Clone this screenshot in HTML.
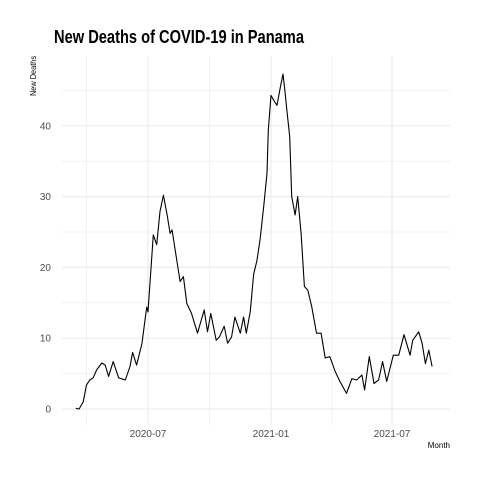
<!DOCTYPE html>
<html><head><meta charset="utf-8"><style>
html,body{margin:0;padding:0;background:#fff;}
svg{display:block;font-family:"Liberation Sans",sans-serif;}
</style></head><body>
<svg id="chart" width="480" height="480" viewBox="0 0 480 480">
<rect width="480" height="480" fill="#fff"/>
<g id="grid"></g>
<g id="axes"></g>
<path id="line" fill="none" stroke="#000" stroke-width="1.1" stroke-linejoin="round"/>
<text x="54" y="43" font-size="18" font-weight="bold" textLength="250" lengthAdjust="spacingAndGlyphs" fill="#000">New Deaths of COVID-19 in Panama</text>
<text transform="translate(36,76) rotate(-90)" font-size="8" text-anchor="middle" fill="#000" textLength="40" lengthAdjust="spacingAndGlyphs">New Deaths</text>
<text x="450" y="448" font-size="8" text-anchor="end" fill="#000">Month</text>
</svg>
<script>
// day offsets from 2020-03-14
const days = [1,6,12,17,22,27,32,40,45,50,57,65,75,82,86,92,100,107,109,117,122,127,132,138,142,145,149,157,162,167,174,183,193,198,203,211,216,223,228,234,239,247,252,256,262,267,272,277,282,287,289,293,297,302,307,311,314,317,321,324,329,333,338,343,348,354,361,368,374,381,389,396,406,414,421,429,433,440,447,454,460,466,476,484,492,501,505,514,519,524,529,534];
const deaths = [0.1,0,1,3.4,4.1,4.4,5.5,6.5,6.2,4.6,6.7,4.4,4.1,6,8,6.2,9.3,14.4,13.7,24.6,23.2,27.9,30.2,27.2,24.8,25.3,22.9,18,18.7,14.9,13.5,10.7,14,10.9,13.5,9.7,10.2,11.7,9.3,10.2,13,10.7,13,10.7,13.8,19,21,24.2,28.6,33.3,39.4,44.3,43.6,42.9,45.5,47.3,44.8,42,38.5,30,27.4,30,24.8,17.3,16.8,14.4,10.7,10.7,7.2,7.4,5.3,3.9,2.2,4.3,4.1,4.8,2.7,7.4,3.6,4.1,6.7,3.9,7.6,7.6,10.5,7.6,9.7,10.9,9.3,6.4,8.3,6];
const yTicks = [0,10,20,30,40];
const yMinor = [5,15,25,35,45];
const xTickDays = [109,293,474];
const xTickLabels = ["2020-07","2021-01","2021-07"];
const xMinorDays = [17,201,384];

const NS="http://www.w3.org/2000/svg";
const X0=62,X1=450,Y0=56,Y1=425;
function xs(d){return 148+(d-109)*0.6685;}
function ys(v){return 409-7.08*v;}
const grid=document.getElementById('grid'), axes=document.getElementById('axes');
function ln(g,x1,y1,x2,y2,w,name){
  const l=document.createElementNS(NS,'line');
  l.setAttribute('x1',x1);l.setAttribute('y1',y1);l.setAttribute('x2',x2);l.setAttribute('y2',y2);
  l.setAttribute('stroke','#ebebeb');l.setAttribute('stroke-width',w);
  
  
  g.appendChild(l);
}
yMinor.forEach(v=>ln(grid,X0,ys(v),X1,ys(v),0.6,'y-minor-gridline'));
xMinorDays.forEach(d=>ln(grid,xs(d),Y0,xs(d),Y1,0.6,'x-minor-gridline'));
yTicks.forEach(v=>{
  ln(grid,X0,ys(v),X1,ys(v),1.1,'y-major-gridline');
  const t=document.createElementNS(NS,'text');
  t.setAttribute('x',51);t.setAttribute('y',ys(v)+3.5);t.setAttribute('text-anchor','end');
  t.setAttribute('font-size','10');t.setAttribute('fill','#4d4d4d');t.textContent=v;
  
  
  axes.appendChild(t);
});
xTickDays.forEach((d,i)=>{
  ln(grid,xs(d),Y0,xs(d),Y1,1.1,'x-major-gridline');
  const t=document.createElementNS(NS,'text');
  t.setAttribute('x',xs(d));t.setAttribute('y',437);t.setAttribute('text-anchor','middle');
  t.setAttribute('font-size','10');t.setAttribute('fill','#4d4d4d');t.textContent=xTickLabels[i];
  
  
  axes.appendChild(t);
});
document.getElementById('line').setAttribute('d',days.map((d,i)=>(i?'L':'M')+xs(d).toFixed(1)+','+ys(deaths[i]).toFixed(1)).join(''));
</script>
</body></html>
